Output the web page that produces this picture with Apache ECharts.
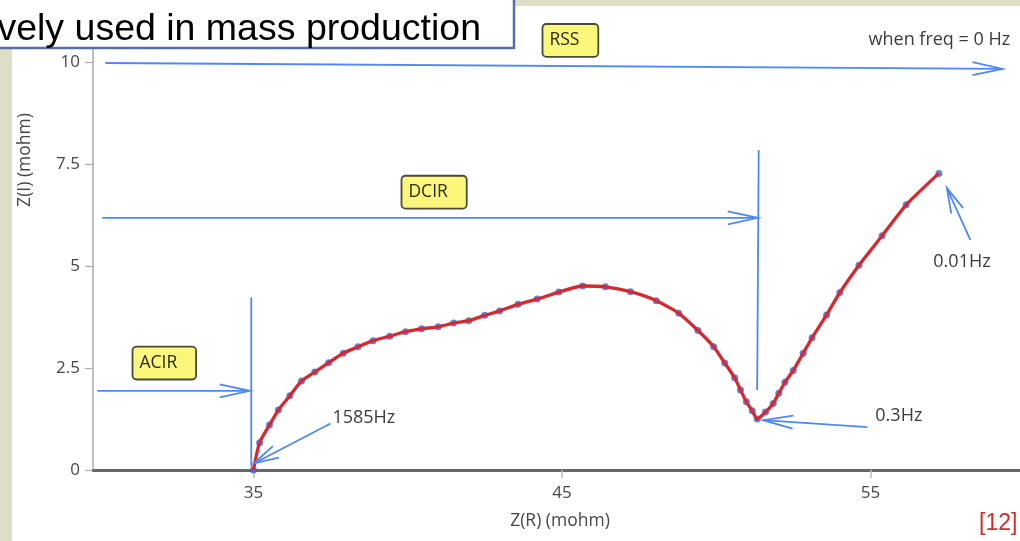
<!DOCTYPE html>
<html><head><meta charset="utf-8">
<script src="https://cdn.jsdelivr.net/npm/echarts@6/dist/echarts.min.js"></script>
<style>html,body{margin:0;padding:0;background:#fff;}#c{width:1020px;height:541px;}</style>
</head><body><div id="c"></div>
<script>
// Nyquist data: Z(R) and Z(I) in mohm
const zReal = [35, 35.2, 35.52, 35.81, 36.18, 36.56, 36.99, 37.44, 37.91, 38.39, 38.88, 39.42, 39.93, 40.45, 40.99, 41.49, 41.98, 42.50, 42.98, 43.58, 44.20, 44.90, 45.67, 46.41, 47.22, 48.06, 48.79, 49.41, 49.92, 50.28, 50.60, 50.79, 50.98, 51.17, 51.33, 51.6, 51.85, 52.03, 52.23, 52.50, 52.82, 53.11, 53.58, 54.01, 54.63, 55.38, 56.16, 57.22];
const zImag = [0, 0.67, 1.10, 1.47, 1.82, 2.18, 2.40, 2.63, 2.86, 3.02, 3.17, 3.28, 3.39, 3.46, 3.51, 3.60, 3.66, 3.79, 3.90, 4.06, 4.19, 4.36, 4.51, 4.49, 4.37, 4.15, 3.84, 3.42, 3.02, 2.62, 2.26, 1.96, 1.67, 1.45, 1.25, 1.42, 1.63, 1.88, 2.15, 2.44, 2.86, 3.24, 3.80, 4.35, 5.02, 5.74, 6.50, 7.27];
const xTicks = [35, 45, 55];
const yTicks = [0, 2.5, 5, 7.5, 10];
// annotation arrows in data units: [x1, y1, x2, y2], head at second point
const arrowLines = [
  [30.2, 9.975, 59.28, 9.83],
  [30.1, 6.18, 51.35, 6.18],
  [29.94, 1.94, 34.88, 1.94],
  [37.50, 1.14, 35.01, 0.16],
  [54.90, 1.05, 51.52, 1.22],
  [58.24, 5.64, 57.48, 6.91]
];
const markerLines = [
  [34.93, 4.23, 34.93, 0.08],
  [51.38, 7.84, 51.33, 1.96]
];
const boxLabels = ['RSS', 'DCIR', 'ACIR'];
const boxAnchors = [[44.40, 10.53], [39.83, 6.81], [31.11, 2.62]];
const noteLabels = ['when freq = 0 Hz', '1585Hz', '0.3Hz', '0.01Hz'];
const noteAnchors = [[54.94, 10.54], [37.56, 1.27], [55.16, 1.32], [57.04, 5.10]];

const BLUE = '#4f88f4';
const FONT = '"Open Sans", "Noto Sans", sans-serif';
const pts = zReal.map((x, i) => [x, zImag[i]]);

function segItem(withHead) {
  return function (params, api) {
    const a = api.coord([api.value(0), api.value(1)]);
    const b = api.coord([api.value(2), api.value(3)]);
    const children = [{type: 'line', shape: {x1: a[0], y1: a[1], x2: b[0], y2: b[1]}, style: {stroke: BLUE, lineWidth: 1.8}}];
    if (withHead) {
      const dx = b[0] - a[0], dy = b[1] - a[1];
      const len = Math.hypot(dx, dy), ux = dx / len, uy = dy / len;
      const L = Math.abs(uy) > 0.2 ? 25 : 30, W = 6.5;
      const bx = b[0] - ux * L, by = b[1] - uy * L;
      children.push({type: 'polyline', shape: {points: [[bx - uy * W, by + ux * W], b, [bx + uy * W, by - ux * W]]},
        style: {stroke: BLUE, lineWidth: 1.8, fill: null}});
    }
    return {type: 'group', children: children};
  };
}

const chart = echarts.init(document.getElementById('c'), null, {renderer: 'canvas'});
chart.setOption({
  backgroundColor: '#ffffff',
  animation: false,
  grid: {left: 93, right: 0, top: 41.6, bottom: 71, containLabel: false, outerBoundsMode: 'none'},
  xAxis: {
    type: 'value', min: 29.8, max: 59.85,
    axisLine: {show: true, onZero: false, lineStyle: {color: '#666666', width: 3}},
    axisTick: {show: true, customValues: xTicks, length: 8, lineStyle: {color: '#bbbbbb', width: 1.5}},
    axisLabel: {customValues: xTicks, margin: 15, color: '#474747', fontFamily: FONT, fontSize: 17},
    splitLine: {show: false}
  },
  yAxis: {
    type: 'value', min: 0, max: 10.5,
    axisLine: {show: true, lineStyle: {color: '#aaaaaa', width: 1.5}},
    axisTick: {show: true, customValues: yTicks, length: 8, lineStyle: {color: '#aaaaaa', width: 1.2}},
    axisLabel: {customValues: yTicks, margin: 13, color: '#474747', fontFamily: FONT, fontSize: 17},
    splitLine: {show: false}
  },
  series: [
    {type: 'scatter', data: pts, symbol: 'circle', symbolSize: 7, itemStyle: {color: '#3466e0'}, z: 3, silent: true},
    {type: 'line', data: pts, showSymbol: false, smooth: 0.2, lineStyle: {color: '#d7282f', width: 3.3}, z: 4, silent: true},
    {type: 'custom', data: arrowLines, dimensions: ['x1', 'y1', 'x2', 'y2'], encode: {x: [0, 2], y: [1, 3]},
      renderItem: segItem(true), clip: false, z: 5, silent: true},
    {type: 'custom', data: markerLines, dimensions: ['x1', 'y1', 'x2', 'y2'], encode: {x: [0, 2], y: [1, 3]},
      renderItem: segItem(false), clip: false, z: 5, silent: true},
    {type: 'custom', data: boxAnchors, encode: {x: 0, y: 1}, clip: false, z: 6, silent: true,
      renderItem: function (params, api) {
        const p = api.coord([api.value(0), api.value(1)]);
        return {type: 'text', x: p[0], y: p[1], style: {
          text: boxLabels[params.dataIndex], font: '17.5px ' + FONT, fill: '#2a2a10',
          align: 'left', verticalAlign: 'middle', lineHeight: 19,
          backgroundColor: '#fbf67c', borderColor: '#4a4a3a', borderWidth: 1.8, borderRadius: 3,
          padding: [6, 18, 6, 6]}};
      }},
    {type: 'custom', data: noteAnchors, encode: {x: 0, y: 1}, clip: false, z: 6, silent: true,
      renderItem: function (params, api) {
        const p = api.coord([api.value(0), api.value(1)]);
        return {type: 'text', x: p[0], y: p[1], style: {
          text: noteLabels[params.dataIndex], font: '18px ' + FONT, fill: '#3c3c3c',
          align: 'left', verticalAlign: 'middle'}};
      }}
  ],
  graphic: [
    {type: 'rect', shape: {x: 0, y: 0, width: 12, height: 541}, style: {fill: '#dedec6'}, z: 1},
    {type: 'rect', shape: {x: 0, y: 0, width: 1020, height: 6}, style: {fill: '#dedec6'}, z: 1},
    {type: 'rect', shape: {x: -10, y: -10, width: 524, height: 58}, style: {fill: '#ffffff', stroke: '#5570a8', lineWidth: 2.5}, z: 100},
    {type: 'text', x: 481, y: 30, z: 101, style: {text: 'vely used in mass production', font: '37.5px "Liberation Sans", Arial, sans-serif', fill: '#000000', align: 'right', verticalAlign: 'middle'}},
    {type: 'text', x: 25, y: 160, rotation: Math.PI / 2, z: 10, style: {text: 'Z(I) (mohm)', font: '17.5px ' + FONT, fill: '#474747', align: 'center', verticalAlign: 'middle'}},
    {type: 'text', x: 560, y: 521, z: 10, style: {text: 'Z(R) (mohm)', font: '17.5px ' + FONT, fill: '#474747', align: 'center', verticalAlign: 'middle'}},
    {type: 'text', x: 979, y: 524, z: 10, style: {text: '[12]', font: '23px "Liberation Sans", Arial, sans-serif', fill: '#d42a2a', align: 'left', verticalAlign: 'middle'}}
  ]
});
</script></body></html>
